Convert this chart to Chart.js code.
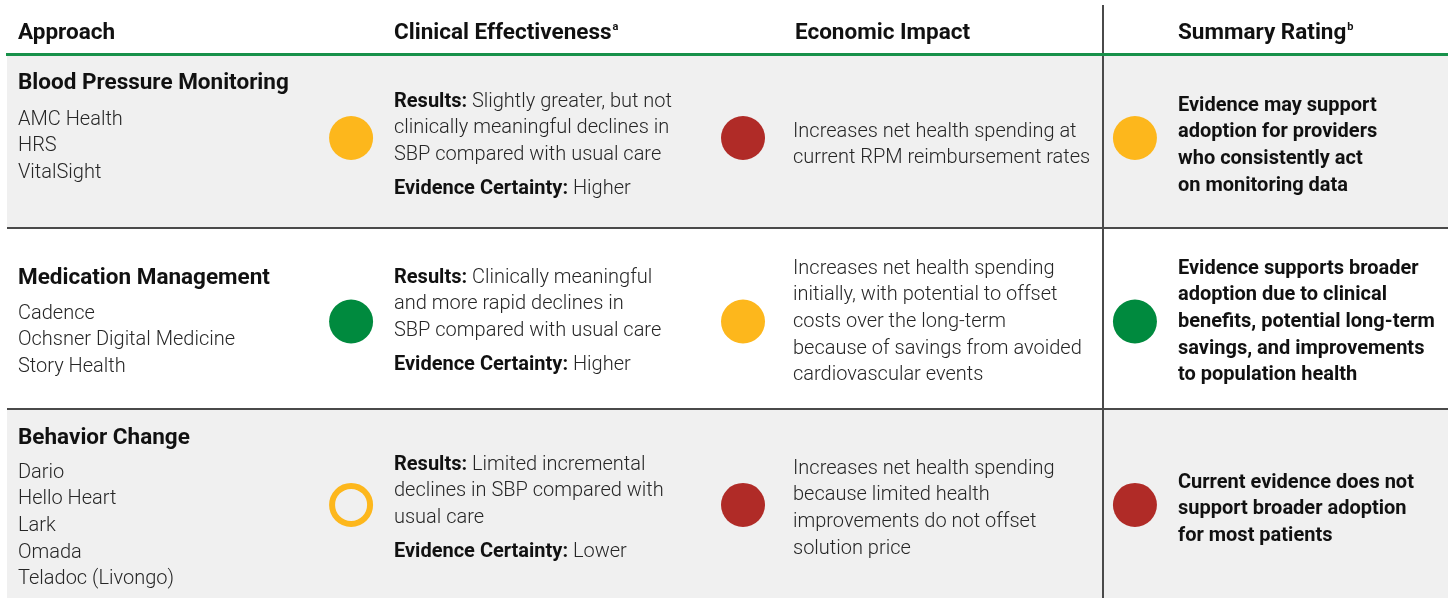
<!DOCTYPE html>
<html lang="en">
<head>
  <meta charset="UTF-8" />
  <title>Hypertension RPM Evidence Summary</title>
  <script src="https://cdn.jsdelivr.net/npm/chart.js"></script>
  <style>
    html, body { margin: 0; padding: 0; background: #fff; }
    .chart-wrap { width: 1448px; height: 598px; position: relative; }
  </style>
</head>
<body>
  <div class="chart-wrap"><canvas id="ratingChart"></canvas></div>

  <script>
    // ---- data ----
    const columns = ['Approach', 'Clinical Effectiveness', 'Economic Impact', 'Summary Rating'];
    const columnNotes = ['', 'a', '', 'b'];
    const approaches = ['Blood Pressure Monitoring', 'Medication Management', 'Behavior Change'];
    const solutions = [
      ['AMC Health', 'HRS', 'VitalSight'],
      ['Cadence', 'Ochsner Digital Medicine', 'Story Health'],
      ['Dario', 'Hello Heart', 'Lark', 'Omada', 'Teladoc (Livongo)']
    ];
    // rating per approach: 'high' = green, 'moderate' = yellow, 'low' = red, 'limited' = open yellow
    const clinicalRatings = ['moderate', 'high', 'limited'];
    const economicRatings = ['low', 'moderate', 'low'];
    const summaryRatings = ['moderate', 'high', 'low'];
    const clinicalResults = [
      ['Slightly greater, but not', 'clinically meaningful declines in', 'SBP compared with usual care'],
      ['Clinically meaningful', 'and more rapid declines in', 'SBP compared with usual care'],
      ['Limited incremental', 'declines in SBP compared with', 'usual care']
    ];
    const evidenceCertainty = ['Higher', 'Higher', 'Lower'];
    const economicText = [
      ['Increases net health spending at', 'current RPM reimbursement rates'],
      ['Increases net health spending', 'initially, with potential to offset', 'costs over the long-term', 'because of savings from avoided', 'cardiovascular events'],
      ['Increases net health spending', 'because limited health', 'improvements do not offset', 'solution price']
    ];
    const summaryText = [
      ['Evidence may support', 'adoption for providers', 'who consistently act', 'on monitoring data'],
      ['Evidence supports broader', 'adoption due to clinical', 'benefits, potential long-term', 'savings, and improvements', 'to population health'],
      ['Current evidence does not', 'support broader adoption', 'for most patients']
    ];

    const ratingColors = { high: '#008a3e', moderate: '#fdb71c', low: '#b02b27', limited: '#fdb71c' };

    // ---- layout ----
    const rowTops = [56, 229, 410];
    const rowBottoms = [227, 408, 598];
    const colText = [18, 394, 793, 1178];
    const lineH = 26.7;
    const dy = 1.5; // baseline nudge
    const nameY = [82, 277, 437];
    const solutionsY = [118, 312, 471];
    const clinicalY = [100, 276, 463];
    const certaintyGap = 34;
    const economicY = [130, 267, 467];
    const summaryY = [104, 267, 481];

    const FONT = 'Roboto, "Liberation Sans", sans-serif';
    const bodyFont = '300 20px ' + FONT;
    const boldFont = 'bold 20px ' + FONT;
    const headFont = 'bold 22.5px ' + FONT;

    function put(ctx, str, x, y, font, color) {
      ctx.font = font;
      ctx.fillStyle = color || '#1f1f1f';
      ctx.fillText(str, x, y + dy);
      return x + ctx.measureText(str).width;
    }

    const tablePlugin = {
      id: 'tablePlugin',
      beforeDatasetsDraw(chart) {
        const ctx = chart.ctx;
        const W = chart.width;
        ctx.save();
        // row panels
        rowTops.forEach((top, i) => {
          if (i !== 1) {
            ctx.fillStyle = '#f0f0f0';
            ctx.fillRect(7, top, W - 7, rowBottoms[i] - top);
          }
        });
        // row rules
        ctx.fillStyle = '#4a4a4a';
        ctx.fillRect(7, 227, W - 7, 2);
        ctx.fillRect(7, 408, W - 7, 2);
        // header rule
        ctx.fillStyle = '#17914a';
        ctx.fillRect(6, 53, W - 6, 3);
        // vertical divider
        ctx.fillStyle = '#4a4a4a';
        ctx.fillRect(1102, 5, 2, 48);
        ctx.fillRect(1102, 56, 2, 598 - 56);

        ctx.textBaseline = 'middle';
        ctx.textAlign = 'left';
        // header
        columns.forEach((c, i) => {
          const end = put(ctx, c, colText[i] + (i === 2 ? 2 : 0), 32, headFont, '#111');
          if (columnNotes[i]) put(ctx, columnNotes[i], end + 1, 26, 'bold 11px ' + FONT, '#111');
        });

        approaches.forEach((a, r) => {
          put(ctx, a, colText[0], nameY[r], headFont, '#111');
          solutions[r].forEach((s, k) => put(ctx, s, colText[0], solutionsY[r] + k * lineH, bodyFont, '#262626'));

          clinicalResults[r].forEach((s, k) => {
            const y = clinicalY[r] + k * lineH;
            if (k === 0) {
              const end = put(ctx, 'Results:', colText[1], y, boldFont, '#111');
              put(ctx, ' ' + s, end, y, bodyFont, '#262626');
            } else {
              put(ctx, s, colText[1], y, bodyFont, '#262626');
            }
          });
          const cy = clinicalY[r] + (clinicalResults[r].length - 1) * lineH + certaintyGap;
          const end = put(ctx, 'Evidence Certainty:', colText[1], cy, boldFont, '#111');
          put(ctx, ' ' + evidenceCertainty[r], end, cy, bodyFont, '#262626');

          economicText[r].forEach((s, k) => put(ctx, s, colText[2], economicY[r] + k * lineH, bodyFont, '#262626'));
          summaryText[r].forEach((s, k) => put(ctx, s, colText[3], summaryY[r] + k * lineH, boldFont, '#111'));
        });
        ctx.restore();
      }
    };

    const ratingSets = [clinicalRatings, economicRatings, summaryRatings];

    new Chart(document.getElementById('ratingChart'), {
      type: 'scatter',
      data: {
        datasets: ratingSets.map((ratings, c) => ({
          label: columns[c + 1],
          data: ratings.map((rt, r) => ({ x: c + 1, y: r })),
          pointRadius: ratings.map(rt => rt === 'limited' ? 19 : 22),
          pointBorderWidth: ratings.map(rt => rt === 'limited' ? 6 : 0),
          pointBackgroundColor: ratings.map(rt => rt === 'limited' ? 'rgba(0,0,0,0)' : ratingColors[rt]),
          pointBorderColor: ratings.map(rt => ratingColors[rt])
        }))
      },
      options: {
        responsive: true,
        maintainAspectRatio: false,
        animation: false,
        events: [],
        layout: { padding: 0 },
        plugins: { legend: { display: false }, tooltip: { enabled: false } },
        scales: {
          x: { type: 'linear', min: 0.168, max: 3.735, display: false },
          y: { type: 'linear', min: -0.616, max: 2.371, reverse: true, display: false }
        }
      },
      plugins: [tablePlugin]
    });
  </script>
</body>
</html>
